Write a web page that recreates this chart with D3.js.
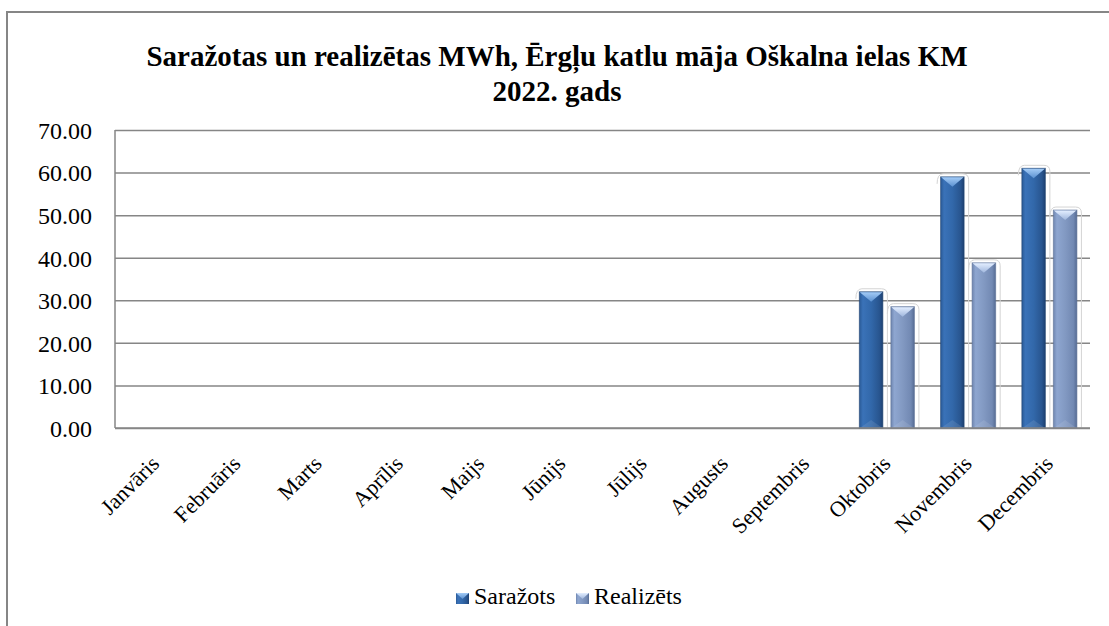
<!DOCTYPE html>
<html>
<head>
<meta charset="utf-8">
<script src="https://cdn.jsdelivr.net/npm/d3@7"></script>
<style>
  body { margin: 0; background: #fff; }
  svg { display: block; }
</style>
</head>
<body>
<div id="chart"></div>
<script>
// data
const months = ["Janvāris", "Februāris", "Marts", "Aprīlis", "Maijs", "Jūnijs",
    "Jūlijs", "Augusts", "Septembris", "Oktobris", "Novembris", "Decembris"];
const seriesNames = ["Saražots", "Realizēts"];
const sarazots = [0, 0, 0, 0, 0, 0, 0, 0, 0, 32.0, 59.0, 61.0];
const realizets = [0, 0, 0, 0, 0, 0, 0, 0, 0, 28.5, 38.8, 51.2];
const yTicks = [0, 10, 20, 30, 40, 50, 60, 70];
const titleLines = ["Saražotas un realizētas MWh, Ērgļu katlu māja Oškalna ielas KM", "2022. gads"];

const width = 1109;
const height = 626;
const margin = { top: 130, right: 19, bottom: 198, left: 115 };
const font = "Liberation Serif";

const svg = d3.select("#chart")
    .append("svg")
    .attr("width", width)
    .attr("height", height);

// gradients for the cylinder-ish bars
const palette = {
    "Saražots": { stops: ["#2a5a96", "#3a72b8", "#3268aa", "#28558f", "#1c3f70"], bevelTop: "#a3cbf6", bevelBot: "#5a90d0", edge: "#1f4270" },
    "Realizēts": { stops: ["#6f86b0", "#8ea6d0", "#8299c2", "#7289b3", "#566c94"], bevelTop: "#e3eeff", bevelBot: "#9fb6dd", edge: "#5a6f96" }
};
const stopOffsets = ["0%", "15%", "50%", "85%", "100%"];
const defs = svg.append("defs");
seriesNames.forEach((s, i) => {
    const c = palette[s];
    const g = defs.append("linearGradient").attr("id", `grad${i}`)
        .attr("x1", "0%").attr("x2", "100%").attr("y1", "0%").attr("y2", "0%");
    c.stops.forEach((col, k) => g.append("stop").attr("offset", stopOffsets[k]).attr("stop-color", col));
    const b = defs.append("linearGradient").attr("id", `bevel${i}`)
        .attr("x1", "0%").attr("x2", "0%").attr("y1", "0%").attr("y2", "100%");
    b.append("stop").attr("offset", "0%").attr("stop-color", c.bevelTop);
    b.append("stop").attr("offset", "100%").attr("stop-color", c.bevelBot);
});

// outer chart frame
svg.append("rect")
    .attr("x", 7).attr("y", 12)
    .attr("width", 1200).attr("height", 700)
    .attr("fill", "none").attr("stroke", "#868686").attr("stroke-width", 2);

// title
svg.append("g").selectAll("text").data(titleLines).join("text")
    .attr("x", 557).attr("y", (d, i) => 66 + i * 35)
    .attr("text-anchor", "middle")
    .attr("font-family", font).attr("font-weight", "bold").attr("font-size", 29)
    .text(d => d);

// scales
const x = d3.scaleBand()
    .domain(months)
    .range([margin.left, width - margin.right])
    .paddingInner(0.31)
    .paddingOuter(0.155);

const xSub = d3.scaleBand()
    .domain(seriesNames)
    .range([0, x.bandwidth()])
    .paddingInner(0.222);

const y = d3.scaleLinear()
    .domain([0, 70])
    .range([height - margin.bottom, margin.top]);

// gridlines + y labels
const yAxis = svg.append("g")
    .attr("transform", `translate(${margin.left},0)`)
    .call(d3.axisLeft(y).tickValues(yTicks).tickFormat(d3.format(".2f"))
        .tickSize(-(width - margin.right - margin.left)).tickPadding(23));
yAxis.select(".domain").remove();
yAxis.attr("font-family", font).attr("font-size", 24);
yAxis.selectAll(".tick line").attr("stroke", "#868686").attr("stroke-width", 1.5);
yAxis.selectAll(".tick text")
    .attr("dy", "0.35em")
    .attr("fill", "#000");

// left axis line
svg.append("line")
    .attr("x1", margin.left).attr("x2", margin.left)
    .attr("y1", y(70)).attr("y2", y(0))
    .attr("stroke", "#868686").attr("stroke-width", 1.5);

// x labels, rotated
svg.append("g").selectAll("text").data(months).join("text")
    .attr("transform", d => `translate(${x(d) + x.bandwidth() / 2 + 5},${y(0) + 37}) rotate(-45)`)
    .attr("text-anchor", "end")
    .attr("font-family", font).attr("font-size", 22)
    .text(d => d);

// bars
const rows = months.map((m, i) => ({ month: m, values: [sarazots[i], realizets[i]] }));
const groups = svg.append("g").selectAll("g").data(rows).join("g")
    .attr("transform", d => `translate(${x(d.month)},0)`);

const bars = groups.selectAll("g.bar")
    .data(d => d.values.map((v, i) => ({ series: seriesNames[i], idx: i, value: v })).filter(b => b.value > 0))
    .join("g").attr("class", "bar");

// faint glow outline
bars.append("path")
    .attr("d", d => {
        const x0 = xSub(d.series) - 3, x1 = xSub(d.series) + xSub.bandwidth() + 4;
        const t = y(d.value) - 3, r = 6;
        return `M${x0},${t + r + 4} Q${x0},${t} ${x0 + r},${t} L${x1 - r},${t} Q${x1},${t} ${x1},${t + r} L${x1},${y(0)}`;
    })
    .attr("fill", "none").attr("stroke", "#d4d4d4").attr("stroke-width", 1);

bars.append("rect")
    .attr("x", d => xSub(d.series) + 0.5)
    .attr("y", d => y(d.value))
    .attr("width", xSub.bandwidth() - 1)
    .attr("height", d => y(0) - y(d.value))
    .attr("fill", d => `url(#grad${d.idx})`)
    .attr("stroke", d => palette[d.series].edge).attr("stroke-width", 1).attr("stroke-opacity", 0.6);

// top bevel
bars.append("path")
    .attr("d", d => {
        const x0 = xSub(d.series), w = xSub.bandwidth(), t = y(d.value);
        return `M${x0 + 1},${t + 0.5} L${x0 + w - 1},${t + 0.5} L${x0 + w / 2},${t + 10} Z`;
    })
    .attr("fill", d => `url(#bevel${d.idx})`);

// bottom bevel
bars.append("path")
    .attr("d", d => {
        const x0 = xSub(d.series), w = xSub.bandwidth(), b = y(0);
        return `M${x0 + 1},${b} L${x0 + w - 1},${b} L${x0 + w / 2},${b - 8} Z`;
    })
    .attr("fill", "#fff").attr("opacity", 0.1);

// baseline redrawn over the bars
svg.append("line")
    .attr("x1", margin.left).attr("x2", width - margin.right)
    .attr("y1", y(0)).attr("y2", y(0))
    .attr("stroke", "#868686").attr("stroke-width", 1.5);

// legend
const legend = svg.append("g").attr("transform", "translate(456,604)");
const legendX = [0, 120];
const items = legend.selectAll("g").data(seriesNames).join("g")
    .attr("transform", (d, i) => `translate(${legendX[i]},0)`);
items.append("rect")
    .attr("x", 0).attr("y", -11).attr("width", 13).attr("height", 11)
    .attr("fill", (d, i) => `url(#grad${i})`);
items.append("path")
    .attr("d", "M0,-11 L13,-11 L6.5,-5 Z")
    .attr("fill", (d, i) => `url(#bevel${i})`);
items.append("text")
    .attr("x", 18).attr("y", 0)
    .attr("font-family", font).attr("font-size", 24)
    .text(d => d);
</script>
</body>
</html>
